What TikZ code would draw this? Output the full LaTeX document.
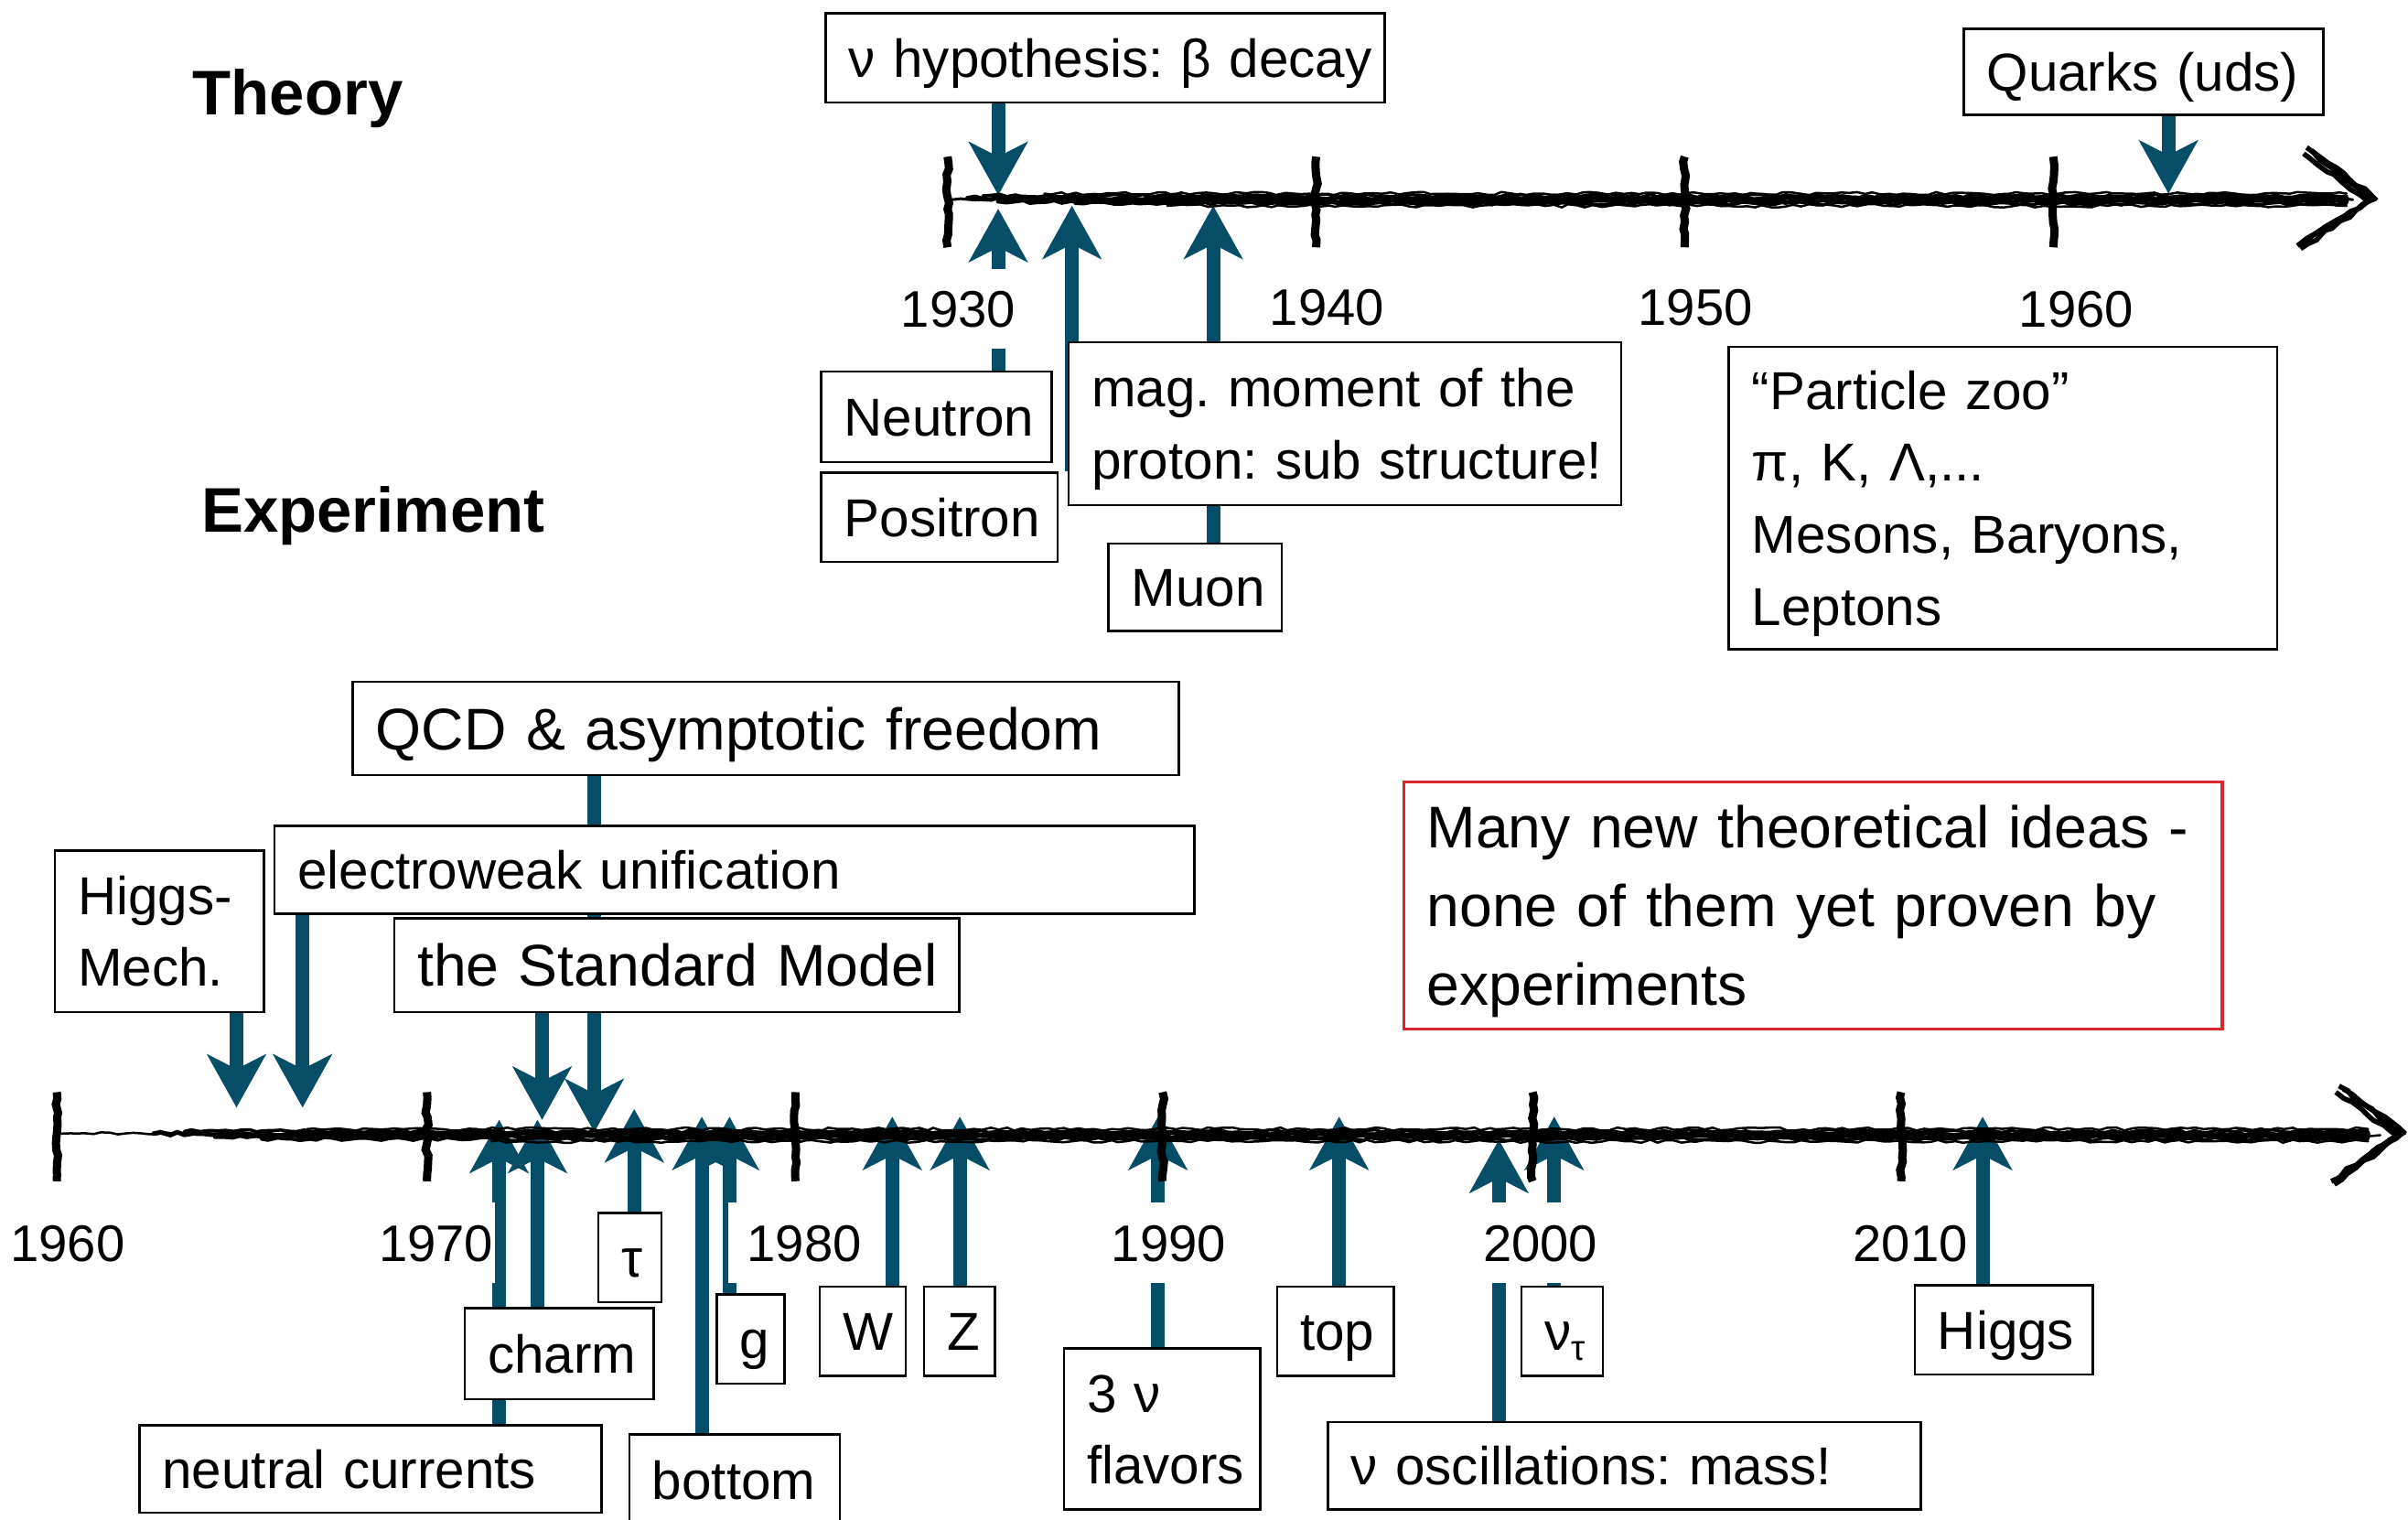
\documentclass[tikz,border=0pt]{standalone}
\usepackage{fontspec}
\setmainfont{Liberation Sans}
\usetikzlibrary{arrows.meta,decorations.pathmorphing}
\definecolor{arrowc}{RGB}{6,78,104}
\definecolor{ideared}{RGB}{216,38,44}
\newcommand\fsn{\fontsize{16.6}{22.4}\selectfont}
\newcommand\fsl{\fontsize{18.3}{24.5}\selectfont}
\newcommand\fsy{\fontsize{16}{19}\selectfont}
\newcommand\fsb{\fontsize{19.6}{24}\selectfont\bfseries}
\newcommand\tbox[7][]{\node[tb,minimum width={(#5-#3)*0.016786cm},minimum height={(#6-#4)*0.016786cm},text width={(#5-#3-30)*0.016786cm},#1] (#2) at (#3,#4) {\begin{tabular}[t]{@{}l@{}}#7\end{tabular}};}
\pgfdeclarelayer{arrlayer}
\pgfdeclarelayer{axlayer}
\pgfsetlayers{arrlayer,axlayer,main}
\frenchspacing
\begin{document}
\begin{tikzpicture}[x=0.016786cm,y=-0.016786cm,
  tb/.style={draw,line width=0.7pt,fill=white,anchor=north west,inner xsep=0.2518cm,inner ysep=0pt,align=left,font=\fsn,text height=11.9pt,text depth=0pt},
  year/.style={fill=white,font=\fsy,text height=11.5pt,text depth=0pt,inner xsep=0.5pt,inner ysep=0.235cm},
  heading/.style={font=\fsb,text height=14pt,text depth=0pt,inner sep=0pt},
  arr/.style={draw=arrowc,line width=0.151cm,-{Stealth[length=0.5875cm,width=0.655cm,inset=0.168cm,line width=0pt]}},
  axbrush/.style={line width=#1,line cap=round,decorate,decoration={random steps,segment length=2.5pt,amplitude=0.5pt}},
  tickb/.style={line width=0.09cm,decorate,decoration={random steps,segment length=2pt,amplitude=0.5pt}},
  chevb/.style={line width=0.055cm,line join=miter,decorate,decoration={random steps,segment length=3pt,amplitude=0.6pt}}]
\pgfmathsetseed{4242}
\useasboundingbox (0,0) rectangle (1568,989);

% headings
\node[heading] (theory) at (194,60) {Theory};
\node[heading] (experiment) at (243,332) {Experiment};

% year labels (white background hides arrow shafts)
\node[year] (yA) at (624,201) {1930};
\node[year] (yB) at (864,200) {1940};
\node[year] (yC) at (1104,200) {1950};
\node[year] (yD) at (1352,201) {1960};
\node[year] (yE) at (44,809) {1960};
\node[year] (yF) at (284,809) {1970};
\node[year,text width=1.4436cm,align=right] (yG) at (518,809) {1980};
\node[year] (yH) at (761,809) {1990};
\node[year] (yI) at (1003,809) {2000};
\node[year] (yJ) at (1244,809) {2010};

% top boxes
\tbox{nuhyp}{537}{8}{901}{66}{ν hypothesis: β decay}
\tbox{quarks}{1278}{18}{1512}{74}{Quarks (uds)}
\tbox{neutron}{534}{241}{684}{300}{Neutron}
\tbox{positron}{534}{307}{688}{365}{Positron}
\tbox[text depth=22.4pt]{mag}{695}{222}{1055}{328}{mag. moment of the\\proton: sub structure!}
\tbox{muon}{721}{353}{834}{410}{Muon}
\tbox[text depth=67.2pt]{zoo}{1125}{225}{1482}{422}{“Particle zoo”\\π, K, Λ,...\\Mesons, Baryons,\\Leptons}

% bottom boxes (theory)
\tbox[font=\fsl,text height=13.1pt]{qcd}{229}{443}{767}{504}{QCD \& asymptotic freedom}
\tbox{ew}{178}{537}{777}{594}{electroweak unification}
\tbox[text depth=22.4pt]{hm}{35}{553}{171}{658}{Higgs-\\Mech.}
\tbox[font=\fsl,text height=13.1pt]{sm}{256}{597}{624}{658}{the Standard Model}
\tbox[draw=ideared,line width=1pt,font=\fsl,text height=13.1pt,text depth=49pt]{ideas}{913}{508}{1446}{669}{Many new theoretical ideas -\\none of them yet proven by\\experiments}

% bottom boxes (experiment)
\tbox{nc}{90}{927}{391}{984}{neutral currents}
\tbox{charm}{302}{851}{425}{910}{charm}
\tbox{tau}{389}{789}{430}{847}{τ}
\tbox{bottom}{409}{933}{546}{993}{bottom}
\tbox{gl}{466}{842}{510}{900}{g}
\tbox{wb}{533}{837}{589}{895}{W}
\tbox{zb}{601}{837}{647}{895}{Z}
\tbox[text depth=22.4pt]{three}{692}{877}{820}{982}{3 ν\\flavors}
\tbox{topq}{831}{837}{907}{895}{top}
\tbox{osc}{864}{925}{1250}{982}{ν oscillations: mass!}
\tbox{nut}{990}{837}{1043}{895}{ν\raisebox{-0.35ex}{\fontsize{11}{11}\selectfont τ}}
\tbox{higgs}{1246}{836}{1362}{894}{Higgs}

% arrow tips
\coordinate (tHyp) at (650,127);
\coordinate (tQrk) at (1412,126);
\coordinate (tNeu) at (650,136);
\coordinate (tPos) at (698,134);
\coordinate (tMuo) at (790,134);
\coordinate (tHM) at (154,721);
\coordinate (tEW) at (197,721);
\coordinate (tSM) at (353,729);
\coordinate (tQCD) at (387,737);
\coordinate (tNC) at (325,729);
\coordinate (tCh) at (350,729);
\coordinate (tTau) at (413,722);
\coordinate (tBot) at (457,727);
\coordinate (tG) at (475,727);
\coordinate (tW) at (581,727);
\coordinate (tZ) at (625,727);
\coordinate (tThree) at (754,727);
\coordinate (tTop) at (872,727);
\coordinate (tOsc) at (976,742);
\coordinate (tNut) at (1012,727);
\coordinate (tHig) at (1291,727);

\begin{pgfonlayer}{arrlayer}
\draw[arr] (nuhyp.south -| tHyp) -- (tHyp);
\draw[arr] (quarks.south -| tQrk) -- (tQrk);
\draw[arr] (neutron.north -| tNeu) -- (tNeu);
\draw[arr] (positron.north -| tPos) -- (tPos);
\draw[arr] (muon.north -| tMuo) -- (tMuo);
\draw[arr] (hm.south -| tHM) -- (tHM);
\draw[arr] (ew.south -| tEW) -- (tEW);
\draw[arr] (sm.south -| tSM) -- (tSM);
\draw[arr] (qcd.south -| tQCD) -- (tQCD);
\draw[arr] (nc.north -| tNC) -- (tNC);
\draw[arr] (charm.north -| tCh) -- (tCh);
\draw[arr] (tau.north -| tTau) -- (tTau);
\draw[arr] (bottom.north -| tBot) -- (tBot);
\draw[arr] (gl.north -| tG) -- (tG);
\draw[arr] (wb.north -| tW) -- (tW);
\draw[arr] (zb.north -| tZ) -- (tZ);
\draw[arr] (three.north -| tThree) -- (tThree);
\draw[arr] (topq.north -| tTop) -- (tTop);
\draw[arr] (osc.north -| tOsc) -- (tOsc);
\draw[arr] (nut.north -| tNut) -- (tNut);
\draw[arr] (higgs.north -| tHig) -- (tHig);
\end{pgfonlayer}

\begin{pgfonlayer}{axlayer}
% top axis
\coordinate (a1s) at (620,130);
\coordinate (a1e) at (1532,130);
\draw[axbrush=0.03cm] (a1s) -- (a1e);
\foreach \dy/\w/\xa in {-4/0.025/680,-2.5/0.035/640,-1/0.05/630,1/0.05/650,2.5/0.035/700,4/0.025/760}
  \draw[axbrush=\w cm] (\xa,{130+\dy}) -- (1528,{130+\dy});
\foreach \x in {617,857,1097,1337} \draw[tickb] (\x,102) -- (\x,161);
\draw[chevb] (1502,96) -- (1545,130) -- (1498,162);
\draw[chevb] (1500,100) -- (1542,131) -- (1500,158);
\draw[chevb] (1505,98) -- (1546,129) -- (1496,160);
% bottom axis
\coordinate (a2s) at (40,738);
\coordinate (a2e) at (1550,739);
\draw[axbrush=0.025cm] (a2s) -- (a2e);
\foreach \dy/\w/\xa in {-4/0.025/200,-2.5/0.035/120,-1/0.05/100,1/0.05/140,2.5/0.035/170,4/0.025/320}
  \draw[axbrush=\w cm] (\xa,{739+\dy}) -- (1542,{739+\dy});
\foreach \x in {37,278,518,757,998,1238} \draw[tickb] (\x,711) -- (\x,769);
\draw[chevb] (1523,707) -- (1564,738) -- (1520,771);
\draw[chevb] (1521,711) -- (1561,739) -- (1522,767);
\draw[chevb] (1526,709) -- (1565,737) -- (1518,769);
\end{pgfonlayer}
\end{tikzpicture}
\end{document}
